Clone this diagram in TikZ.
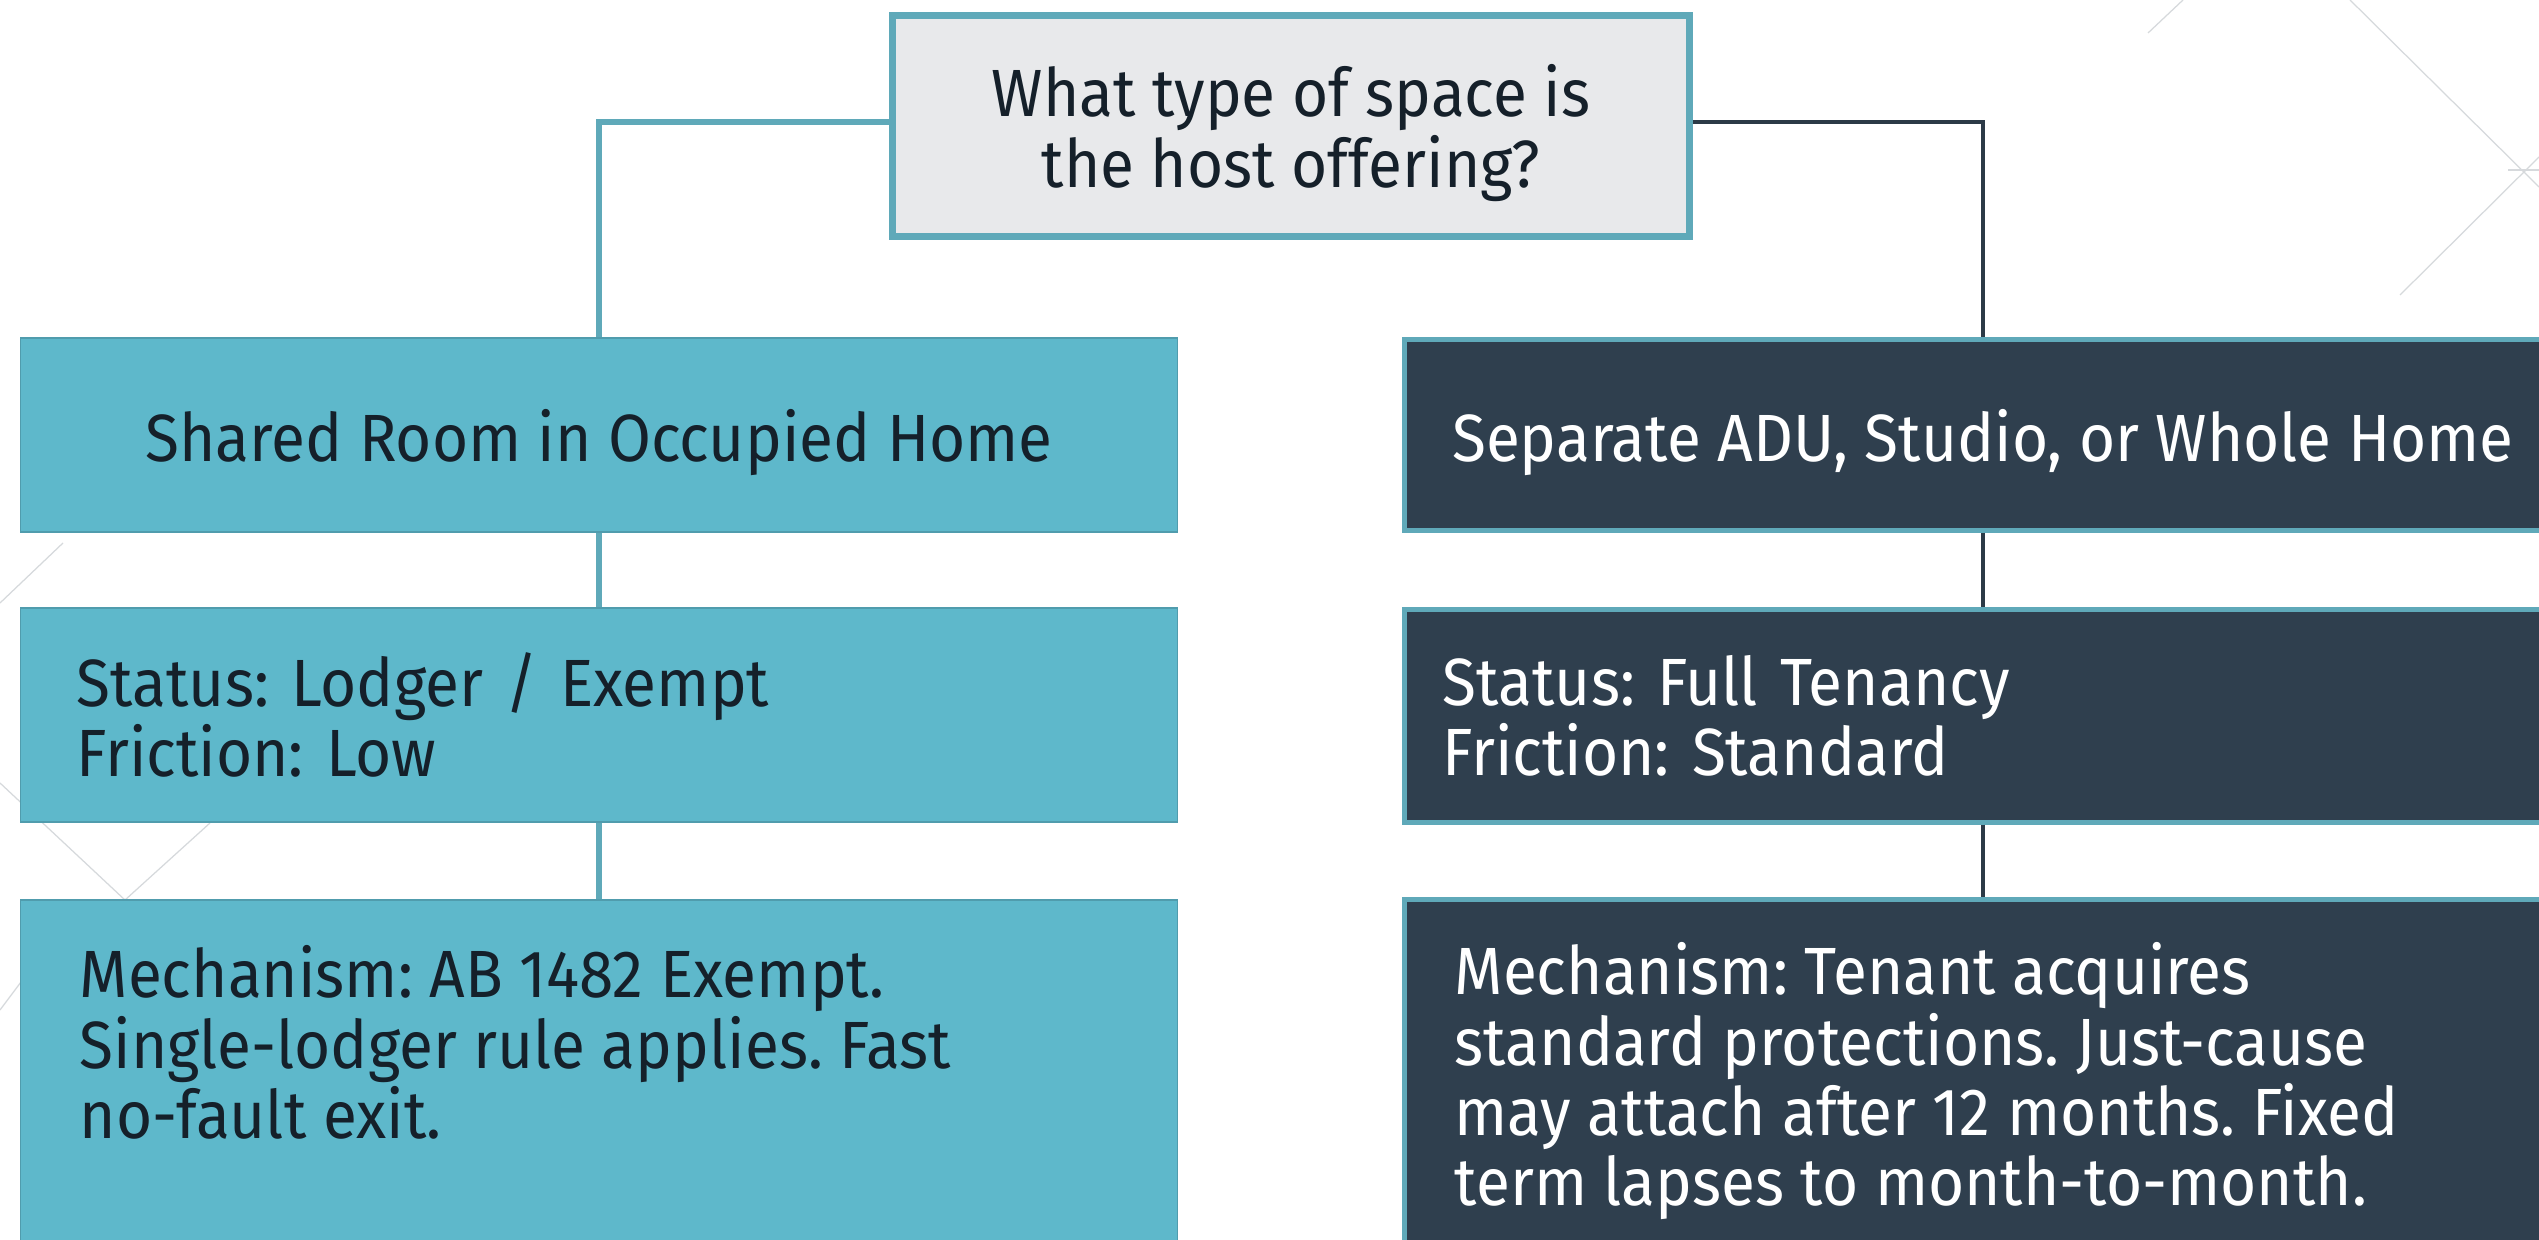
\documentclass[tikz,border=0pt]{standalone}
\usepackage{fontspec}
\setmainfont{Fira Sans}[FakeStretch=0.93]
\usetikzlibrary{positioning,calc}
\definecolor{tealfill}{HTML}{5EB8CB}
\definecolor{tealline}{HTML}{5FA9B9}
\definecolor{navyfill}{HTML}{2F3F4E}
\definecolor{navyline}{HTML}{2C3A47}
\definecolor{greyfill}{HTML}{E8E9EB}
\definecolor{inkdark}{HTML}{15202A}
\definecolor{faintline}{HTML}{D6D9DC}
\frenchspacing
\begin{document}
\begin{tikzpicture}[x=0.01cm,y=-0.01cm,
  every node/.style={font=\fontsize{19pt}{20pt}\selectfont,inner sep=0pt},
  question/.style={draw=tealline,line width=2pt,fill=greyfill,text=inkdark,
    minimum width=7.96cm,minimum height=2.20cm,align=center,text depth=0pt},
  sharedbox/.style={draw=tealfill!85!black,line width=0.4pt,fill=tealfill,text=inkdark,
    minimum width=11.56cm},
  fullbox/.style={draw=tealline,line width=1.4pt,fill=navyfill,text=white,
    minimum width=11.56cm},
  tline/.style={draw=tealline,line width=1.8pt},
  nline/.style={draw=navyline,line width=1.4pt},
  backline/.style={draw=faintline,line width=0.35pt}]
\useasboundingbox (0,0) rectangle (2539,1240);
\clip (0,0) rectangle (2539,1240);
\fill[white] (0,0) rectangle (2539,1240);
\draw[backline] (2350,0) -- (2539,187);
\draw[backline] (2400,295) -- (2539,157);
\draw[backline] (2508,170) -- (2539,170);
\draw[backline] (2148,33) -- (2183,0);
\draw[backline] (63,543) -- (0,603);
\draw[backline] (0,783) -- (125,900) -- (210,823);
\draw[backline] (0,1010) -- (30,970);

\node[question] (q) at (1291,126) {What type of space is\\the host offering?};

\node[sharedbox,minimum height=1.94cm,text depth=0pt] (shared) at (599,435) {Shared Room in Occupied Home};
\node[sharedbox,minimum height=2.14cm,text width=10.44cm,inner xsep=0.56cm,align=left]
  (statusL) at (599,715) {Status: Lodger / Exempt\\Friction: Low};
\node[sharedbox,minimum height=3.50cm] (mechL) at (599,1075) {};
\node[anchor=north west,text=inkdark,align=left] (mechLtext) at (79,945)
  {Mechanism: AB 1482 Exempt.\\Single-lodger rule applies. Fast\\no-fault exit.};

\node[fullbox,minimum height=1.90cm,text depth=0pt] (separate) at (1983,435) {Separate ADU, Studio, or Whole Home};
\node[fullbox,minimum height=2.12cm,text width=10.80cm,inner xsep=0.38cm,align=left]
  (statusR) at (1983,716) {Status: Full Tenancy\\Friction: Standard};
\node[fullbox,minimum height=3.50cm] (mechR) at (1983,1075) {};
\node[anchor=north west,text=white,align=left] (mechRtext) at (1454,942)
  {Mechanism: Tenant acquires\\standard protections. Just-cause\\may attach after 12 months. Fixed\\term lapses to month-to-month.};

\draw[tline] (q.west |- 0,122) -| (shared.north);
\draw[tline] (shared.south) -- (statusL.north);
\draw[tline] (statusL.south) -- (mechL.north);
\draw[nline] (q.east |- 0,122) -| (separate.north);
\draw[nline] (separate.south) -- (statusR.north);
\draw[nline] (statusR.south) -- (mechR.north);
\end{tikzpicture}
\end{document}
